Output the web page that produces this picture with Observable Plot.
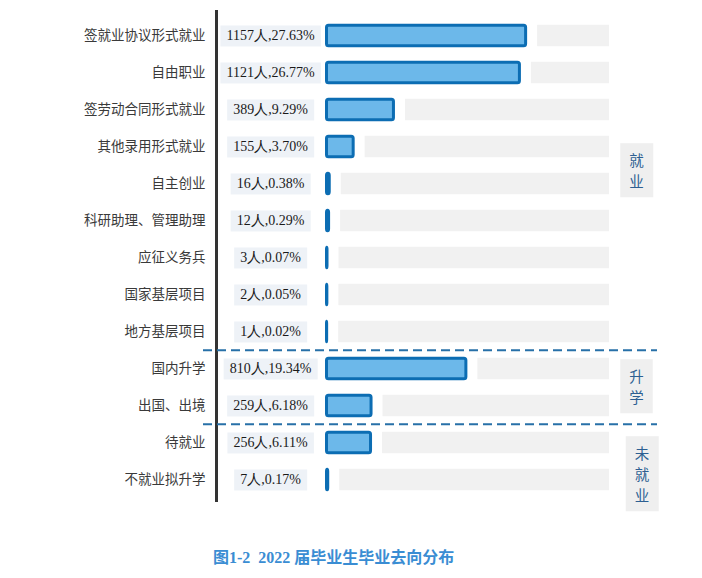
<!DOCTYPE html>
<html>
<head>
<meta charset="utf-8">
<script src="https://cdn.jsdelivr.net/npm/d3@7"></script>
<script src="https://cdn.jsdelivr.net/npm/@observablehq/plot@0.6"></script>
<style>
  body { margin: 0; background: #fff; }
  #chart { position: absolute; left: 0; top: 0; }
  #cap {
    position: absolute; left: 213px; top: 548px; line-height: 20px;
    font-family: "Liberation Serif", "Noto Sans CJK SC", serif;
    font-weight: bold; font-size: 16px; color: #3a8dd3; white-space: pre;
  }
</style>
</head>
<body>
<div id="chart"></div>
<div id="cap">图1-2  2022 届毕业生毕业去向分布</div>
<script>
const categories = ["签就业协议形式就业","自由职业","签劳动合同形式就业","其他录用形式就业","自主创业","科研助理、管理助理","应征义务兵","国家基层项目","地方基层项目","国内升学","出国、出境","待就业","不就业拟升学"];
const counts = [1157,1121,389,155,16,12,3,2,1,810,259,256,7];
const percents = [27.63,26.77,9.29,3.70,0.38,0.29,0.07,0.05,0.02,19.34,6.18,6.11,0.17];
const groupNames = ["就业","升学","未就业"];
const groupOf = [0,0,0,0,0,0,0,0,0,1,1,2,2];
const trackMax = 39.2;

const data = categories.map((name, i) => ({name, count: counts[i], pct: percents[i], group: groupNames[groupOf[i]]}));
const firstOf = g => data.find(d => d.group === g);
const groupLabel = g => [{label: g.split("").join("\n"), name: g === "就业" ? data.filter(d => d.group === g)[4].name : firstOf(g).name}];
const separators = groupNames.slice(1).map(g => firstOf(g));

const step = 37.7;
const LABEL_FILL = "#2d5f92";

const chart = Plot.plot({
  width: 702, height: 530,
  marginTop: 10, marginBottom: 28, marginLeft: 216, marginRight: 45,
  style: {fontFamily: "'Noto Sans CJK SC', sans-serif", background: "white", color: "#3a3a3a"},
  x: {domain: [0, trackMax], range: [326.5, 609], axis: null},
  y: {domain: categories, range: [12.45, 502.55], padding: 0, axis: null},
  marks: [
    Plot.axisY({tickSize: 0, tickPadding: 11, fontSize: 13.5, label: null}),
    Plot.barX(data, {x1: "pct", x2: d => trackMax, y: "name", fill: "#f1f1f1", insetLeft: 11.5, insetTop: 7.8, insetBottom: 7.8}),
    Plot.barX(data, {x: "pct", y: "name", fill: "#6cb8ea", stroke: "#0c6db3", strokeWidth: 3, rx: 2, insetTop: 8.35, insetBottom: 8.35}),
    Plot.text(data, {x: d => 0, y: "name", text: d => `${d.count}人,${d.pct.toFixed(2)}%`, dx: -56.5, fontFamily: "'Liberation Serif', serif", fontSize: 14, fill: "#1a1a1a"}),
    Plot.ruleX([0], {dx: -110.5, stroke: "#333", strokeWidth: 3}),
    Plot.ruleY(separators, {y: "name", dy: -step / 2, stroke: "#2770a8", strokeWidth: 2, strokeDasharray: "9,5", insetLeft: -13}),
    Plot.text(groupLabel("就业"), {x: d => trackMax, y: "name", text: "label", dx: 27, dy: -14, fontSize: 14.5, lineHeight: 1.45, fill: LABEL_FILL}),
    Plot.text(groupLabel("升学"), {x: d => trackMax, y: "name", text: "label", dx: 27, dy: 17, fontSize: 14.5, lineHeight: 1.45, fill: LABEL_FILL}),
    Plot.text(groupLabel("未就业"), {x: d => trackMax, y: "name", text: "label", dx: 32.5, dy: 30.5, fontSize: 14.5, lineHeight: 1.45, fill: LABEL_FILL})
  ]
});
document.getElementById("chart").append(chart);

function addBoxes(selector, padX, padY, fill) {
  chart.querySelectorAll(selector).forEach(g => {
    g.querySelectorAll("text").forEach(t => {
      const b = t.getBBox();
      const r = document.createElementNS("http://www.w3.org/2000/svg", "rect");
      r.setAttribute("x", b.x - padX);
      r.setAttribute("y", b.y - padY);
      r.setAttribute("width", b.width + 2 * padX);
      r.setAttribute("height", b.height + 2 * padY);
      r.setAttribute("fill", fill);
      r.setAttribute("stroke", "none");
      if (t.getAttribute("transform")) r.setAttribute("transform", t.getAttribute("transform"));
      g.insertBefore(r, t);
    });
  });
}
addBoxes('g[font-family*="Liberation Serif"]', 6, 3, "#eef2f7");
addBoxes(`g[fill="${LABEL_FILL}"]`, 9, 6, "#efefef");
</script>
</body>
</html>
